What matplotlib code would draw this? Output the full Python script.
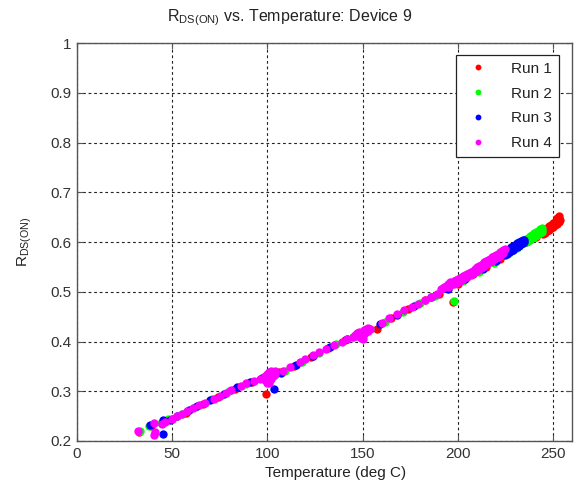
import matplotlib
matplotlib.use("Agg")
import matplotlib.pyplot as plt

plt.rcParams['font.family'] = ['Liberation Sans', 'DejaVu Sans']
plt.rcParams['mathtext.default'] = 'regular'

# ---- data ----
run1_T = [32.5, 39, 45, 50, 57, 66, 74, 83, 92, 99.5, 106, 114, 123, 132, 141, 150, 157.7, 165,
          174, 183, 190, 197.5, 200, 208, 215, 222, 229, 236, 241,
          244, 245, 245, 246, 246, 247, 247, 248, 248, 249, 249, 250, 250, 251, 251,
          252, 252, 252, 253, 253, 253, 253.5]
run1_R = [0.219, 0.231, 0.238, 0.244, 0.257, 0.274, 0.289, 0.305, 0.319, 0.295, 0.338, 0.350, 0.369,
          0.386, 0.403, 0.418, 0.425, 0.447, 0.466, 0.483, 0.495, 0.479, 0.515, 0.535, 0.550, 0.566,
          0.583, 0.600, 0.611,
          0.618, 0.622, 0.616, 0.626, 0.619, 0.629, 0.622, 0.632, 0.625, 0.635, 0.628, 0.638, 0.631,
          0.641, 0.634, 0.644, 0.637, 0.649, 0.640, 0.646, 0.652, 0.645]

run2_T = [33, 38, 44, 48, 55, 62, 71, 80, 89, 97, 104, 109.5, 118, 127, 136, 145, 154, 162, 171,
          180, 188, 198, 203, 211, 219, 227, 231,
          234, 235, 236, 236, 237, 237, 238, 238, 239, 239, 240, 240, 241, 241, 242, 242,
          243, 243, 244, 244, 244.5]
run2_R = [0.221, 0.231, 0.237, 0.245, 0.255, 0.268, 0.284, 0.300, 0.315, 0.327, 0.333, 0.340,
          0.359, 0.377, 0.394, 0.409, 0.426, 0.440, 0.459, 0.477, 0.492, 0.482, 0.522, 0.540,
          0.557, 0.577, 0.588,
          0.598, 0.602, 0.606, 0.599, 0.609, 0.602, 0.612, 0.605, 0.615, 0.608, 0.618, 0.611,
          0.621, 0.613, 0.623, 0.616, 0.626, 0.619, 0.628, 0.621, 0.625]

run3_T = [38.4, 45.1, 45.4, 48.9, 52.5, 59, 63, 70, 77, 84, 91, 97, 103.7, 107, 115, 124, 133,
          142, 151, 159, 168, 177, 186, 195, 204, 213, 220,
          224, 225, 225, 226, 226, 227, 227, 228, 228, 229, 229, 230, 230, 231, 231, 232, 232,
          233, 233, 234, 234, 235, 235]
run3_R = [0.232, 0.215, 0.242, 0.243, 0.250, 0.262, 0.271, 0.282, 0.295, 0.308, 0.318, 0.326,
          0.305, 0.337, 0.352, 0.370, 0.389, 0.405, 0.420, 0.435, 0.454, 0.471, 0.489, 0.505,
          0.525, 0.546, 0.561,
          0.575, 0.580, 0.573, 0.583, 0.576, 0.586, 0.579, 0.589, 0.582, 0.591, 0.584, 0.594,
          0.587, 0.597, 0.589, 0.600, 0.592, 0.602, 0.595, 0.604, 0.598, 0.604, 0.600]

run4_T = [32.3, 40.2, 40.5, 41, 44.9, 46,
          50, 52.5, 55, 58, 61, 64, 67, 72, 75, 78, 81, 86, 89, 93, 96,
          98, 99, 100, 100, 101, 101, 102, 102, 103, 103, 104, 100, 101, 99, 102, 104,
          108, 112, 117, 120, 124, 127, 131, 135, 139, 142,
          145, 146, 147, 148, 148, 149, 150, 150, 151, 151, 152, 152, 153, 153, 149, 150, 147, 154,
          160, 164, 168, 172, 176, 179, 183, 186, 189,
          191, 192, 193, 194, 195, 195, 196, 196, 197, 198, 198, 199, 199, 200, 200, 201, 201,
          202, 202, 203, 203, 204, 205, 205, 206, 207, 207, 208,
          209, 209, 210, 210, 211, 211, 212, 212, 213, 213, 214, 214, 215, 215, 216, 216, 217, 217,
          218, 218, 219, 219, 220, 220, 221, 221, 222, 222, 223, 223, 224, 224, 225]
run4_R = [0.221, 0.236, 0.212, 0.218, 0.235, 0.239,
          0.245, 0.250, 0.254, 0.260, 0.266, 0.272, 0.277, 0.285, 0.290, 0.296, 0.302, 0.311,
          0.316, 0.320, 0.325,
          0.325, 0.330, 0.334, 0.320, 0.328, 0.338, 0.333, 0.324, 0.336, 0.330, 0.334, 0.316,
          0.316, 0.322, 0.341, 0.340,
          0.340, 0.348, 0.358, 0.364, 0.372, 0.378, 0.385, 0.392, 0.400, 0.405,
          0.410, 0.414, 0.412, 0.416, 0.420, 0.418, 0.420, 0.413, 0.424, 0.416, 0.425, 0.419,
          0.428, 0.421, 0.408, 0.406, 0.418, 0.426,
          0.438, 0.447, 0.455, 0.463, 0.470, 0.476, 0.483, 0.490, 0.495,
          0.505, 0.507, 0.509, 0.512, 0.510, 0.516, 0.513, 0.519, 0.516, 0.521, 0.515, 0.523,
          0.518, 0.525, 0.519, 0.528, 0.522, 0.530, 0.524, 0.532, 0.526, 0.534, 0.535, 0.530,
          0.537, 0.539, 0.534, 0.541,
          0.546, 0.540, 0.549, 0.542, 0.551, 0.545, 0.554, 0.547, 0.556, 0.550, 0.559, 0.552,
          0.561, 0.555, 0.564, 0.557, 0.566, 0.560, 0.569, 0.562, 0.571, 0.565, 0.574, 0.567,
          0.576, 0.570, 0.579, 0.572, 0.581, 0.575, 0.584, 0.577, 0.585]

labels = ['Run 1', 'Run 2', 'Run 3', 'Run 4']
colors = ['#ff0000', '#00ff00', '#0000ff', '#ff00ff']
x_ticks = [0, 50, 100, 150, 200, 250]
y_ticks = [0.2, 0.3, 0.4, 0.5, 0.6, 0.7, 0.8, 0.9, 1.0]
y_ticklabels = ['0.2', '0.3', '0.4', '0.5', '0.6', '0.7', '0.8', '0.9', '1']

fig = plt.figure(figsize=(5.81, 4.91), dpi=100)
ax = fig.add_axes([77/581, 1 - 441/491, (572 - 77)/581, (441 - 43)/491])

for T, R, lab, c in zip([run1_T, run2_T, run3_T, run4_T], [run1_R, run2_R, run3_R, run4_R],
                        labels, colors):
    ax.plot(T, R, linestyle='none', marker='o', markersize=6, color=c,
            markeredgewidth=0, label=lab)

ax.set_xlim(0, 260)
ax.set_ylim(0.2, 1.0)
ax.set_xticks(x_ticks)
ax.set_yticks(y_ticks)
ax.set_yticklabels(y_ticklabels)
ax.grid(True, color='#222222', linestyle=(0, (2.5, 2.5)), linewidth=0.8)
ax.set_axisbelow(True)
for s in ax.spines.values():
    s.set_color('#555555')
    s.set_linewidth(1.0)
ax.tick_params(direction='in', top=True, right=True, length=4, width=0.8, color='#555555',
               labelsize=11, labelcolor='#333333', pad=4)

ax.set_xlabel('Temperature (deg C)', fontsize=11, color='#222222', labelpad=3)
ax.xaxis.set_label_coords(0.523, -0.062)
ax.set_ylabel(r'$R_{DS(ON)}$', fontsize=11, color='#222222', labelpad=12)
fig.text(290/581, 1 - 18/491, r'$R_{DS(ON)}$ vs. Temperature: Device 9', fontsize=11.5,
         color='#222222', ha='center', va='center')

leg = ax.legend(loc='upper right', bbox_to_anchor=(0.974, 0.970), borderaxespad=0,
                fontsize=11, markerscale=0.7, fancybox=False, framealpha=1,
                edgecolor='#222222', labelspacing=0.7, handlelength=2.0,
                handletextpad=1.2, borderpad=0.45)
leg.get_frame().set_linewidth(0.9)
for t in leg.get_texts():
    t.set_color('#222222')

fig.savefig('out.png', dpi=100)
